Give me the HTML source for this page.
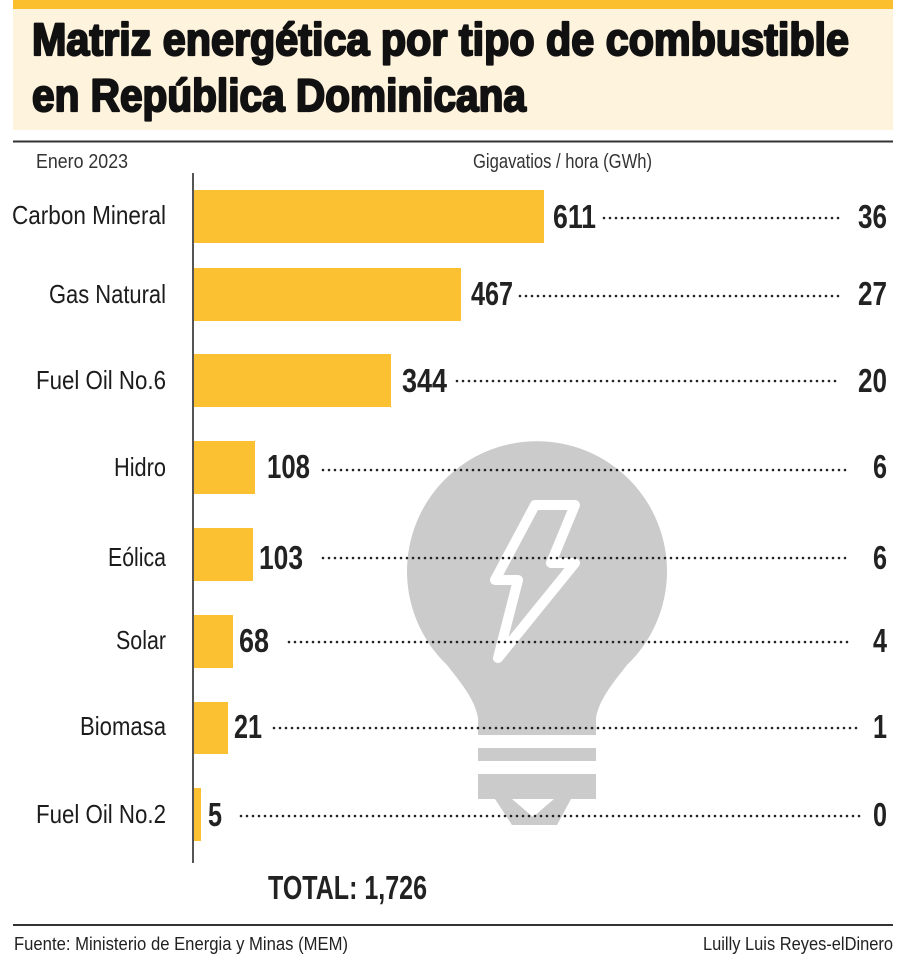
<!DOCTYPE html>
<html>
<head>
<meta charset="utf-8">
<style>
  html,body{margin:0;padding:0;background:#fff;}
  svg{display:block;}
  text{font-family:"Liberation Sans", Arial, sans-serif;}
</style>
</head>
<body>
<svg width="900" height="968" viewBox="0 0 900 968" xmlns="http://www.w3.org/2000/svg">
  <!-- header -->
  <rect x="13" y="0" width="880" height="9" fill="#FBBF2E"/>
  <rect x="13" y="9" width="880" height="121" fill="#FEF3DD"/>
  <text x="32" y="55" font-size="45" font-weight="bold" fill="#111" stroke="#111" stroke-width="2.2" stroke-linejoin="round" textLength="817" lengthAdjust="spacingAndGlyphs">Matriz energética por tipo de combustible</text>
  <text x="32" y="111" font-size="45" font-weight="bold" fill="#111" stroke="#111" stroke-width="2.2" stroke-linejoin="round" textLength="494" lengthAdjust="spacingAndGlyphs">en República Dominicana</text>
  <rect x="13" y="140.5" width="880" height="2" fill="#333"/>

  <text x="36" y="168" font-size="20.5" fill="#333" textLength="92" lengthAdjust="spacingAndGlyphs">Enero 2023</text>
  <text x="473" y="168" font-size="20.5" fill="#333" textLength="179" lengthAdjust="spacingAndGlyphs">Gigavatios / hora (GWh)</text>

  <!-- bulb -->
  <g fill="#CBCBCB">
    <path d="M 478 735 L 478 718 C 475 700 462 684 447 665 A 130 130 0 1 1 627 665 C 612 684 599 700 596 718 L 596 735 Z"/>
    <rect x="478" y="748" width="118" height="13"/>
    <rect x="478" y="774" width="118" height="25"/>
    <path d="M 495 799 L 571 799 L 557 825 L 512 825 Z"/>
  </g>
  <path d="M 512 799 L 554 799 L 533 817 Z" fill="#fff"/>
  <path d="M 535 505 L 575 505 L 551 563 L 575 563 L 498 658 L 518 580 L 495 580 Z" fill="none" stroke="#fff" stroke-width="10" stroke-linejoin="round" stroke-linecap="round"/>

  <!-- axis -->
  <rect x="192" y="173" width="2" height="690" fill="#555"/>

  <!-- bars -->
  <g fill="#FCC133">
    <rect x="194" y="190" width="350" height="53"/>
    <rect x="194" y="268" width="267" height="53"/>
    <rect x="194" y="354" width="197" height="53"/>
    <rect x="194" y="441" width="61" height="53"/>
    <rect x="194" y="528" width="59" height="53"/>
    <rect x="194" y="615" width="39" height="53"/>
    <rect x="194" y="702" width="34" height="52"/>
    <rect x="194" y="788" width="7" height="53"/>
  </g>

  <!-- category labels -->
  <g font-size="26" fill="#1c1c1c">
    <text x="12" y="224" textLength="154" lengthAdjust="spacingAndGlyphs">Carbon Mineral</text>
    <text x="49" y="303" textLength="117" lengthAdjust="spacingAndGlyphs">Gas Natural</text>
    <text x="36" y="389" textLength="130" lengthAdjust="spacingAndGlyphs">Fuel Oil No.6</text>
    <text x="114" y="476" textLength="52" lengthAdjust="spacingAndGlyphs">Hidro</text>
    <text x="108" y="566" textLength="58" lengthAdjust="spacingAndGlyphs">Eólica</text>
    <text x="116" y="649" textLength="50" lengthAdjust="spacingAndGlyphs">Solar</text>
    <text x="80" y="735" textLength="86" lengthAdjust="spacingAndGlyphs">Biomasa</text>
    <text x="36" y="823" textLength="130" lengthAdjust="spacingAndGlyphs">Fuel Oil No.2</text>
  </g>

  <!-- dotted leaders -->
  <g stroke="#222" stroke-width="2.6" stroke-linecap="round" stroke-dasharray="0 6">
    <line x1="604" y1="218" x2="839" y2="218"/>
    <line x1="520" y1="296" x2="839" y2="296"/>
    <line x1="457" y1="381" x2="839" y2="381"/>
    <line x1="323" y1="470" x2="851" y2="470"/>
    <line x1="323" y1="558" x2="851" y2="558"/>
    <line x1="289" y1="642" x2="851" y2="642"/>
    <line x1="274" y1="728" x2="860" y2="728"/>
    <line x1="241" y1="816" x2="860" y2="816"/>
  </g>

  <!-- values -->
  <g font-size="33" font-weight="bold" fill="#222">
    <text x="553" y="228" textLength="43" lengthAdjust="spacingAndGlyphs">611</text>
    <text x="471" y="305" textLength="42" lengthAdjust="spacingAndGlyphs">467</text>
    <text x="402" y="392" textLength="45" lengthAdjust="spacingAndGlyphs">344</text>
    <text x="267" y="478" textLength="43" lengthAdjust="spacingAndGlyphs">108</text>
    <text x="259" y="569" textLength="44" lengthAdjust="spacingAndGlyphs">103</text>
    <text x="239" y="652" textLength="30" lengthAdjust="spacingAndGlyphs">68</text>
    <text x="234" y="738" textLength="28" lengthAdjust="spacingAndGlyphs">21</text>
    <text x="208" y="826" textLength="14" lengthAdjust="spacingAndGlyphs">5</text>

    <text x="858" y="228" textLength="29" lengthAdjust="spacingAndGlyphs">36</text>
    <text x="858" y="305" textLength="29" lengthAdjust="spacingAndGlyphs">27</text>
    <text x="858" y="392" textLength="29" lengthAdjust="spacingAndGlyphs">20</text>
    <text x="873" y="478" textLength="14" lengthAdjust="spacingAndGlyphs">6</text>
    <text x="873" y="569" textLength="14" lengthAdjust="spacingAndGlyphs">6</text>
    <text x="873" y="652" textLength="14" lengthAdjust="spacingAndGlyphs">4</text>
    <text x="873" y="738" textLength="14" lengthAdjust="spacingAndGlyphs">1</text>
    <text x="873" y="826" textLength="14" lengthAdjust="spacingAndGlyphs">0</text>
  </g>

  <!-- total -->
  <text x="268" y="899" font-size="33" font-weight="bold" fill="#222" textLength="159" lengthAdjust="spacingAndGlyphs">TOTAL: 1,726</text>

  <!-- footer -->
  <rect x="13" y="924" width="880" height="2" fill="#333"/>
  <text x="14" y="950" font-size="18" fill="#222" textLength="334" lengthAdjust="spacingAndGlyphs">Fuente: Ministerio de Energia y Minas  (MEM)</text>
  <text x="703" y="950" font-size="18" fill="#222" textLength="190" lengthAdjust="spacingAndGlyphs">Luilly Luis Reyes-elDinero</text>
</svg>
</body>
</html>
